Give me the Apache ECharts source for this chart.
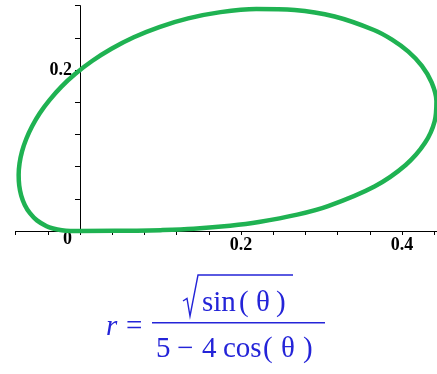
<!DOCTYPE html>
<html>
<head>
<meta charset="utf-8">
<script src="https://cdn.jsdelivr.net/npm/echarts@6/dist/echarts.min.js"></script>
<style>
  html, body { margin: 0; padding: 0; background: #fff; }
  #chart { width: 437px; height: 374px; }
</style>
</head>
<body>
<div id="chart"></div>
<script>
// Polar curve r = sqrt(sin θ) / (5 - 4 cos θ), traced for θ from 0 to π,
// given as (x, y) points in drawing order.
const curveX = [
  0, 0.0707, 0.1000, 0.1413, 0.1865, 0.2222, 0.2699, 0.3082, 0.3658, 0.4046,
  0.4286, 0.4406, 0.4428, 0.4368, 0.4247, 0.4079, 0.3876, 0.3651, 0.3163, 0.2666,
  0.2189, 0.1746, 0.1344, 0.0985, 0.0668, 0.0391, 0.0150, -0.0057, -0.0233, -0.0379,
  -0.0500, -0.0595, -0.0668, -0.0720, -0.0751, -0.0762, -0.0755, -0.0730, -0.0686, -0.0622,
  -0.0535, -0.0415, -0.0335, -0.0226, -0.0120, 0
];
const curveY = [
  0, 0.0004, 0.0010, 0.0028, 0.0065, 0.0111, 0.0203, 0.0309, 0.0553, 0.0820,
  0.1095, 0.1363, 0.1616, 0.1847, 0.2052, 0.2228, 0.2377, 0.2497, 0.2664, 0.2745,
  0.2758, 0.2719, 0.2641, 0.2534, 0.2407, 0.2264, 0.2112, 0.1953, 0.1791, 0.1626,
  0.1463, 0.1301, 0.1143, 0.0989, 0.0840, 0.0698, 0.0564, 0.0439, 0.0324, 0.0221,
  0.0132, 0.0059, 0.0031, 0.0009, 0.0001, 0
];

// Labelled ticks
const xTickValues = [0.2, 0.4];
const xTickLabels = ['0.2', '0.4'];
const yTickValues = [0, 0.2];
const yTickLabels = ['0', '0.2'];

const curveData = curveX.map((x, i) => [x, curveY[i]]);

function pickLabel(values, labels, v) {
  for (let i = 0; i < values.length; i++) {
    if (Math.abs(values[i] - v) < 1e-6) return labels[i];
  }
  return '';
}

const tickFont = {
  fontFamily: '"Liberation Serif", "DejaVu Serif", serif',
  fontWeight: 'bold',
  fontSize: 18,
  color: '#000'
};

// plot area geometry: 805 px per unit on both axes
const gridLeft = 15.6, gridTop = 5.6, gridW = 421.8, gridH = 225.4;
const xMin = -0.08;
const yAxisShift = -(0 - xMin) * gridW / (0.444 - xMin);

const blue = '#2424d8';
const mathFont = '"Liberation Serif", "DejaVu Serif", serif';
function mathText(str, x, y, opts) {
  return {
    type: 'text',
    left: x, top: y,
    style: Object.assign({
      text: str,
      fill: blue,
      font: '29px ' + mathFont,
      textVerticalAlign: 'top'
    }, opts || {})
  };
}

const chart = echarts.init(document.getElementById('chart'), null, { renderer: 'canvas' });
chart.setOption({
  animation: false,
  backgroundColor: '#ffffff',
  grid: {
    left: gridLeft, top: gridTop, width: gridW, height: gridH,
    containLabel: false, outerBoundsMode: 'none'
  },
  xAxis: {
    type: 'value',
    min: xMin,
    max: 0.444,
    interval: 0.04,
    axisLine: { onZero: false, lineStyle: { color: '#000', width: 1 } },
    axisTick: { show: true, length: 4, lineStyle: { color: '#000', width: 1 } },
    splitLine: { show: false },
    axisLabel: Object.assign({
      margin: 5,
      showMinLabel: true,
      showMaxLabel: true,
      formatter: v => pickLabel(xTickValues, xTickLabels, v)
    }, tickFont)
  },
  yAxis: {
    type: 'value',
    min: 0,
    max: 0.28,
    interval: 0.04,
    offset: yAxisShift,
    axisLine: { onZero: false, lineStyle: { color: '#000', width: 1 } },
    axisTick: { show: true, length: 5, lineStyle: { color: '#000', width: 1 } },
    splitLine: { show: false },
    axisLabel: Object.assign({
      margin: 8,
      formatter: v => {
        const t = pickLabel(yTickValues, yTickLabels, v);
        if (!t) return '';
        return v === 0 ? '{zero|' + t + '}' : t;
      },
      rich: {
        zero: Object.assign({ padding: [16, 0, 0, 0] }, tickFont)
      }
    }, tickFont)
  },
  series: [{
    type: 'line',
    data: curveData,
    smooth: 0.35,
    showSymbol: false,
    clip: false,
    lineStyle: { color: '#1fb252', width: 4.5, cap: 'round', join: 'round' }
  }],
  graphic: [
    // r =
    mathText('r', 106, 313, { font: 'italic 29px ' + mathFont }),
    mathText('=', 126, 313),
    // fraction bar
    { type: 'rect', shape: { x: 152, y: 322, width: 173, height: 1.6 }, style: { fill: blue } },
    // radical sign with its overbar
    {
      type: 'polyline',
      shape: { points: [[183, 301], [187, 298.5], [190, 316], [198, 275], [293, 275]] },
      style: { stroke: blue, lineWidth: 1.4, fill: null, lineJoin: 'miter' }
    },
    // numerator: sin(θ)
    mathText('sin', 202, 289),
    mathText('(', 239, 289),
    mathText('θ', 256, 289),
    mathText(')', 276, 289),
    // denominator: 5 − 4 cos(θ)
    mathText('5', 156, 335),
    mathText('\u2212', 177, 335),
    mathText('4', 202, 335),
    mathText('cos', 223, 335),
    mathText('(', 263, 335),
    mathText('θ', 281, 335),
    mathText(')', 303, 335)
  ]
});
</script>
</body>
</html>
